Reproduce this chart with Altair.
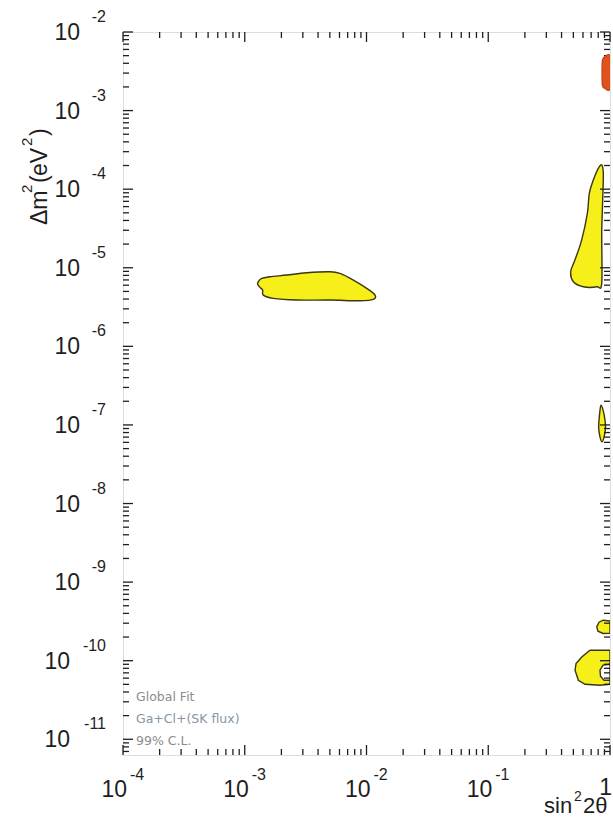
import altair as alt
import pandas as pd
import numpy as np

W, H = 487, 723

# ---- axis data ----
X_MAJOR_EXP = [-4, -3, -2, -1, 0]
Y_MAJOR_EXP = [-11, -10, -9, -8, -7, -6, -5, -4, -3, -2]
X_LABEL_EXP = ["-4", "-3", "-2", "-1"]
Y_LABEL_EXP = ["-11", "-10", "-9", "-8", "-7", "-6", "-5", "-4", "-3", "-2"]
MINOR_K = [2, 3, 4, 5, 6, 7, 8, 9]
X_DOMAIN_EXP = [-4, 0]
Y_DOMAIN_EXP = [-11.2, -2]

# ---- contour regions (log10 sin^2 2theta, log10 dm^2) ----
SMA_X = [-2.889, -2.861, -2.793, -2.655, -2.491, -2.300, -2.218, -2.108, -1.998, -1.930,
         -1.944, -2.053, -2.300, -2.573, -2.766, -2.848, -2.853, -2.875, -2.894]
SMA_Y = [-5.178, -5.135, -5.115, -5.093, -5.064, -5.051, -5.072, -5.157, -5.262, -5.348,
         -5.402, -5.420, -5.411, -5.411, -5.390, -5.348, -5.284, -5.250, -5.212]

LMA_X = [-0.068, -0.055, -0.060, -0.068, -0.068, -0.109, -0.219, -0.301, -0.323,
         -0.288, -0.233, -0.186, -0.170, -0.137, -0.096]
LMA_Y = [-3.693, -3.799, -4.138, -4.562, -5.199, -5.242, -5.242, -5.178, -5.051,
         -4.902, -4.648, -4.308, -4.053, -3.884, -3.735]

LOW_X = [-0.074, -0.057, -0.041, -0.037, -0.049, -0.066, -0.082, -0.093, -0.090, -0.082]
LOW_Y = [-6.748, -6.812, -6.939, -7.041, -7.156, -7.216, -7.156, -7.041, -6.939, -6.812]

VAC1_X = [0.0, -0.057, -0.090, -0.109, -0.099, -0.057, 0.0]
VAC1_Y = [-9.494, -9.485, -9.510, -9.570, -9.625, -9.654, -9.650]

VAC2_X = [0.0, -0.164, -0.232, -0.279, -0.287, -0.260, -0.205, -0.082, 0.0]
VAC2_Y = [-9.867, -9.867, -9.952, -10.036, -10.121, -10.249, -10.300, -10.312, -10.300]

HOLE_X = [0.0, -0.057, -0.082, -0.078, -0.049, 0.0]
HOLE_Y = [-10.045, -10.057, -10.121, -10.198, -10.249, -10.249]

RED_X = [0.0, -0.045, -0.058, -0.064, -0.064, -0.058, -0.045, 0.0]
RED_Y = [-2.318, -2.318, -2.345, -2.400, -2.650, -2.695, -2.713, -2.713]

LEGEND_LINES = ["Global Fit", "Ga+Cl+(SK flux)", "99% C.L."]

YELLOW = "#f6ef1a"
OUTLINE = "#3b3612"
RED = "#e2521f"
INK = "#1e1e1e"
FONT = "Liberation Sans"


def poly_df(name, xs, ys):
    return pd.DataFrame({
        "region": name,
        "i": np.arange(len(xs)),
        "x": np.power(10.0, xs),
        "y": np.power(10.0, ys),
    })


xs = alt.Scale(type="log", domain=[10.0 ** X_DOMAIN_EXP[0], 10.0 ** X_DOMAIN_EXP[1]], nice=False)
ys = alt.Scale(type="log", domain=[10.0 ** Y_DOMAIN_EXP[0], 10.0 ** Y_DOMAIN_EXP[1]], nice=False)


def poly_layer(df, fill, stroke, interp):
    return alt.Chart(df).mark_line(
        fill=fill, stroke=stroke, strokeWidth=1.4, interpolate=interp, clip=True
    ).encode(
        x=alt.X("x:Q", scale=xs, axis=None),
        y=alt.Y("y:Q", scale=ys, axis=None),
        order=alt.Order("i:Q"),
        detail="region:N",
    )


smooth = pd.concat([poly_df("sma", SMA_X, SMA_Y), poly_df("lma", LMA_X, LMA_Y),
                    poly_df("low", LOW_X, LOW_Y)])
edge = pd.concat([poly_df("vac1", VAC1_X, VAC1_Y), poly_df("vac2", VAC2_X, VAC2_Y)])

layers = [
    poly_layer(smooth, YELLOW, OUTLINE, "cardinal-closed"),
    poly_layer(edge, YELLOW, OUTLINE, "linear-closed"),
    poly_layer(poly_df("hole", HOLE_X, HOLE_Y), "white", OUTLINE, "linear-closed"),
]

# ---- tick tables ----
x_major = pd.DataFrame({"v": [10.0 ** e for e in X_MAJOR_EXP]})
x_minor = pd.DataFrame({"v": [k * 10.0 ** e for e in X_MAJOR_EXP[:-1] for k in MINOR_K]})
y_major = pd.DataFrame({"v": [10.0 ** e for e in Y_MAJOR_EXP]})
y_minor_vals = [k * 10.0 ** e for e in range(-12, -2) for k in MINOR_K]
y_minor = pd.DataFrame({"v": [v for v in y_minor_vals if 10.0 ** Y_DOMAIN_EXP[0] <= v <= 10.0 ** Y_DOMAIN_EXP[1]]})


def xrule(df, y0, y1):
    return alt.Chart(df).mark_rule(color=INK, strokeWidth=1.3).encode(
        x=alt.X("v:Q", scale=xs, axis=None), y=alt.value(y0), y2=alt.value(y1))


def yrule(df, x0, x1):
    return alt.Chart(df).mark_rule(color=INK, strokeWidth=1.3).encode(
        y=alt.Y("v:Q", scale=ys, axis=None), x=alt.value(x0), x2=alt.value(x1))


MAJ, MIN = 10, 6
layers += [
    xrule(x_major, H, H - MAJ), xrule(x_minor, H, H - MIN),
    xrule(x_major, 0, MAJ), xrule(x_minor, 0, MIN),
    yrule(y_major, 0, MAJ), yrule(y_minor, 0, MIN),
    yrule(y_major, W, W - MAJ), yrule(y_minor, W, W - MIN),
]

# red region sits on top of the right-hand ticks
layers.append(poly_layer(poly_df("red", RED_X, RED_Y), RED, "#c94419", "cardinal-closed"))

# ---- tick labels ----
xl = pd.DataFrame({"v": [10.0 ** int(e) for e in X_LABEL_EXP], "e": X_LABEL_EXP})
layers.append(alt.Chart(xl).mark_text(text="10", font=FONT, fontSize=23, align="right",
                                      baseline="alphabetic", dx=4, color=INK).encode(
    x=alt.X("v:Q", scale=xs, axis=None), y=alt.value(H + 42)))
layers.append(alt.Chart(xl).mark_text(font=FONT, fontSize=16, align="left",
                                      baseline="alphabetic", dx=7, color=INK).encode(
    x=alt.X("v:Q", scale=xs, axis=None), y=alt.value(H + 25), text="e:N"))
layers.append(alt.Chart(pd.DataFrame({"v": [1.0]})).mark_text(
    text="1", font=FONT, fontSize=23, align="right", baseline="alphabetic", dx=2, color=INK).encode(
    x=alt.X("v:Q", scale=xs, axis=None), y=alt.value(H + 40)))

yl = pd.DataFrame({"v": [10.0 ** int(e) for e in Y_LABEL_EXP], "e": Y_LABEL_EXP,
                   "wide": [len(e) > 2 for e in Y_LABEL_EXP]})
layers.append(alt.Chart(yl).mark_text(font=FONT, fontSize=16, align="right",
                                      baseline="alphabetic", dy=-10, color=INK).encode(
    y=alt.Y("v:Q", scale=ys, axis=None), x=alt.value(-17), text="e:N"))
layers.append(alt.Chart(yl).transform_filter("!datum.wide").mark_text(
    text="10", font=FONT, fontSize=23, align="right", baseline="alphabetic", dy=8, color=INK).encode(
    y=alt.Y("v:Q", scale=ys, axis=None), x=alt.value(-43)))
layers.append(alt.Chart(yl).transform_filter("datum.wide").mark_text(
    text="10", font=FONT, fontSize=23, align="right", baseline="alphabetic", dy=8, color=INK).encode(
    y=alt.Y("v:Q", scale=ys, axis=None), x=alt.value(-53)))


# ---- axis titles (pieces for superscripts) ----
def txt(s, x, y, size, angle=0, align="left", color=INK, font=FONT):
    kw = dict(text=s, font=font, fontSize=size, align=align, baseline="alphabetic", color=color)
    if angle:
        kw["angle"] = angle
    return alt.Chart(pd.DataFrame({"a": [0]})).mark_text(**kw).encode(
        x=alt.value(x), y=alt.value(y))


layers += [
    txt("\u0394m", -76, 193, 23, 270),
    txt("2", -91, 161, 15, 270),
    txt("(", -76, 151, 23, 270),
    txt("eV", -76, 144, 23, 270),
    txt("2", -91, 114, 15, 270),
    txt(")", -76, 104, 23, 270),
    txt("sin", 421, H + 58, 22),
    txt("2", 451, H + 46, 14),
    txt("2\u03b8", 460, H + 58, 22),
]

# ---- legend text ----
leg_colors = ["#8c8c8c", "#8796a4", "#8c8c8c"]
for j, (s, c) in enumerate(zip(LEGEND_LINES, leg_colors)):
    layers.append(txt(s, 13, 669 + 22 * j, 12.5, color=c, font="DejaVu Sans"))

chart = alt.layer(*layers).properties(
    width=W, height=H,
    padding={"left": 123, "top": 32, "right": 3, "bottom": 63},
    autosize=alt.AutoSizeParams(type="none"),
).configure_view(stroke=INK, strokeWidth=2).configure(background="white")

chart.save("out.html", embed_options={"renderer": "svg", "actions": False})
